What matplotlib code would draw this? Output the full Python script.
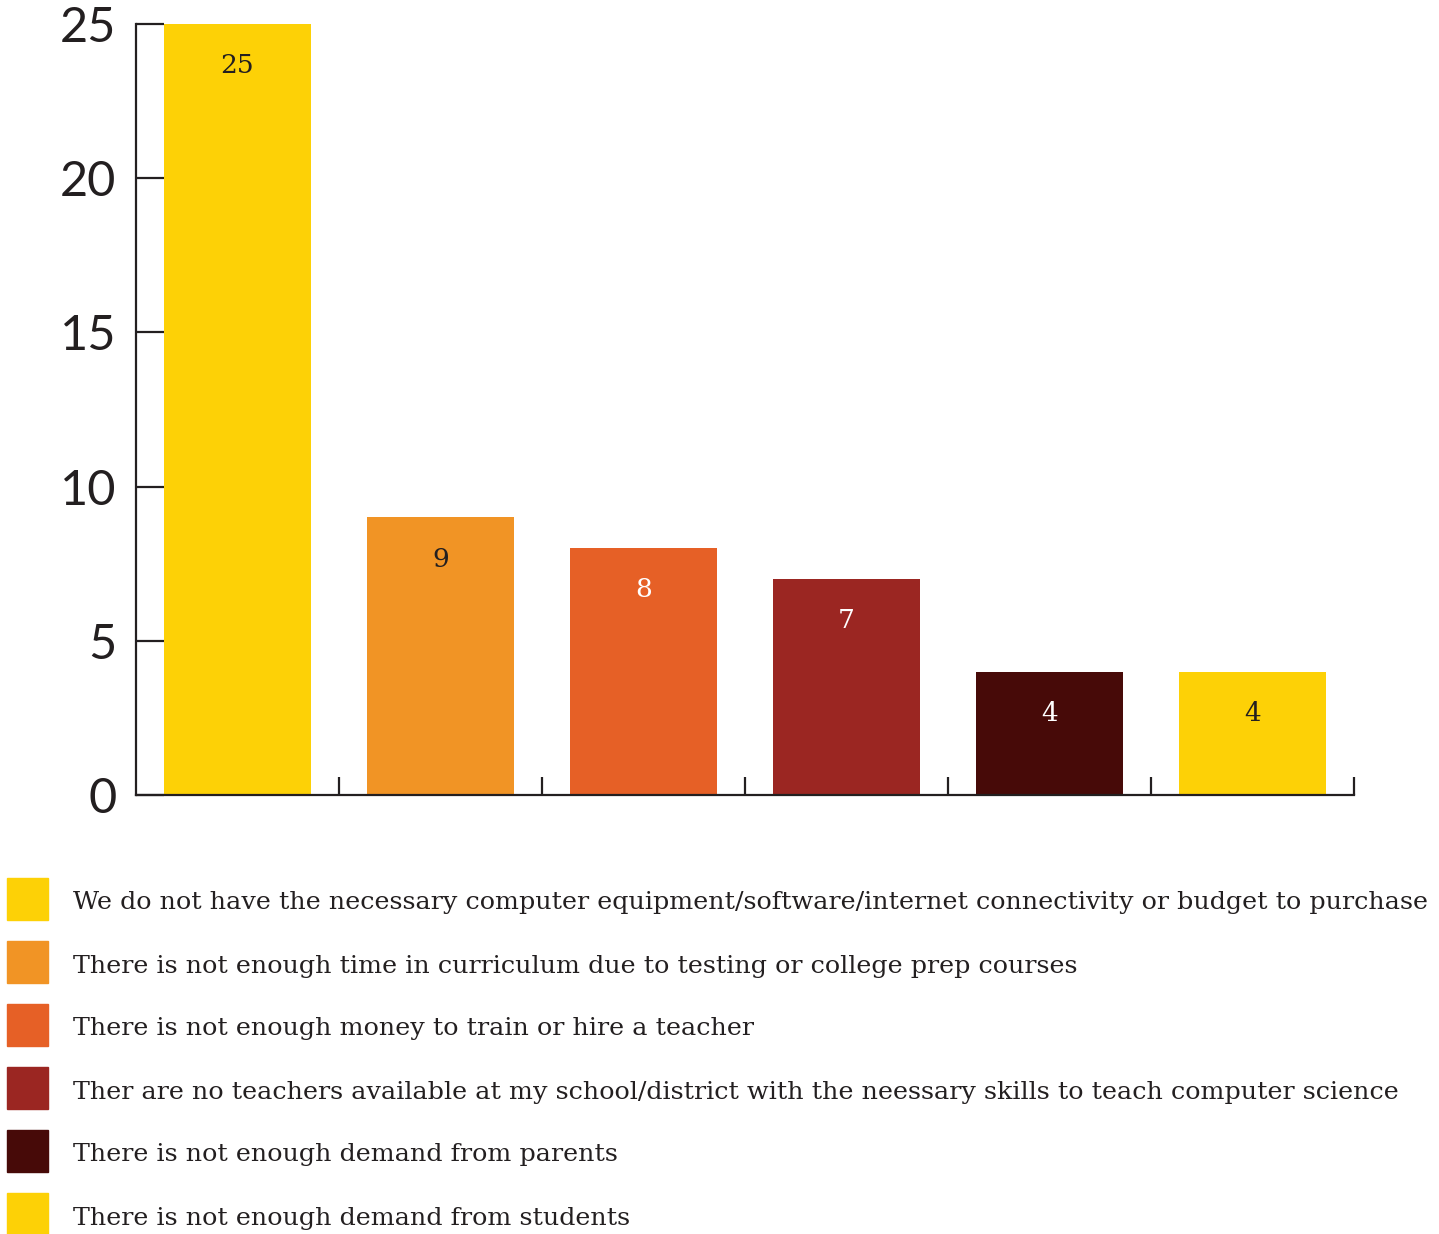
import matplotlib
matplotlib.use("Agg")
from matplotlib import pyplot as plt
from matplotlib.patches import Rectangle

# reasons schools don't offer computer science
reasons = [
    "We do not have the necessary computer equipment/software/internet connectivity or budget to purchase",
    "There is not enough time in curriculum due to testing or college prep courses",
    "There is not enough money to train or hire a teacher",
    "Ther are no teachers available at my school/district with the neessary skills to teach computer science",
    "There is not enough demand from parents",
    "There is not enough demand from students",
]
counts = [25, 9, 8, 7, 4, 4]
colors = ["#FDD106", "#F19425", "#E66026", "#9B2622", "#470A08", "#FDD106"]
label_colors = ["#231F20", "#231F20", "white", "white", "white", "#231F20"]
yticks = [0, 5, 10, 15, 20, 25]

W, H = 1439, 1234
fig = plt.figure(figsize=(W/100, H/100), dpi=100)
ax = fig.add_axes([136/W, 1 - 795/H, (1354-136)/W, (795-24)/H])

x = list(range(len(counts)))
bars = ax.bar(x, counts, width=0.725, color=colors, zorder=2)

for b, c, tc in zip(bars, counts, label_colors):
    ax.annotate(str(c), (b.get_x() + b.get_width()/2, b.get_height()),
                xytext=(0, -30), textcoords="offset points",
                ha="center", va="center", fontsize=19, color=tc,
                family="DejaVu Serif", zorder=3)

ax.set_xlim(-0.5, len(counts) - 0.5)
ax.set_ylim(0, 25)
ax.set_yticks(yticks)
ax.set_yticklabels([str(t) for t in yticks], fontsize=35, family="Lato", color="#231F20")
ax.set_xticks([i + 0.5 for i in range(len(counts))])
ax.set_xticklabels([])
ax.tick_params(axis="y", direction="in", length=20, width=1.6, color="#231F20", pad=14)
ax.tick_params(axis="x", direction="in", length=13, width=1.6, color="#231F20")
for s in ["top", "right"]:
    ax.spines[s].set_visible(False)
for s in ["left", "bottom"]:
    ax.spines[s].set_linewidth(1.6)
    ax.spines[s].set_color("#231F20")

# legend drawn by hand: square + label per row
for i, (txt, c) in enumerate(zip(reasons, colors)):
    yc = 899 + i * 63
    fig.patches.append(Rectangle((7/W, 1 - (yc + 21)/H), 41/W, 42/H,
                                 transform=fig.transFigure, color=c, figure=fig))
    fig.text(73/W, 1 - (yc + 4)/H, txt, ha="left", va="center", fontsize=18.3,
             family="DejaVu Serif", color="#231F20")

fig.savefig("out.png", dpi=100, facecolor="white")
